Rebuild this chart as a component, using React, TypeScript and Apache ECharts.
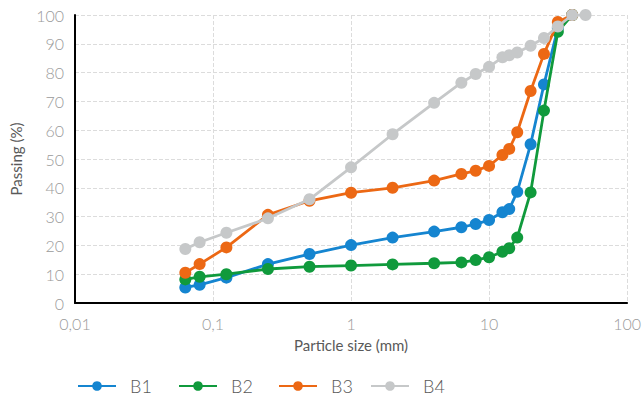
import React, { useEffect, useRef } from "react";
import * as echarts from "echarts";

const sizes = [0.063, 0.08, 0.125, 0.25, 0.5, 1, 2, 4, 6.3, 8, 10, 12.5, 14, 16, 20, 25, 31.5, 40];
const sizesB4 = [0.063, 0.08, 0.125, 0.25, 0.5, 1, 2, 4, 6.3, 8, 10, 12.5, 14, 16, 20, 25, 31.5, 40, 50];

const b1 = [5.4, 6.3, 8.8, 13.5, 17, 20.1, 22.7, 24.8, 26.3, 27.4, 28.8, 31.5, 32.6, 38.6, 55.1, 75.9, 95.5, 100];
const b2 = [8.2, 9.1, 10, 11.8, 12.6, 13, 13.4, 13.8, 14.1, 14.9, 15.9, 17.8, 19, 22.7, 38.4, 66.8, 94.2, 100];
const b3 = [10.5, 13.5, 19.3, 30.6, 35.5, 38.3, 40, 42.5, 44.8, 45.9, 47.6, 51.4, 53.5, 59.3, 73.6, 86.5, 97.6, 100];
const b4 = [18.75, 21.1, 24.4, 29.4, 36, 47.1, 58.6, 69.5, 76.5, 79.5, 82, 85.3, 86, 87, 89.3, 92, 96, 100, 100];

const seriesNames = ["B1", "B2", "B3", "B4"];
const colors = ["#1585d0", "#109a3c", "#ec6814", "#c6c8c9"];
const legendLefts = [77, 178, 278, 370];

function pairs(xs: number[], ys: number[]) {
  return xs.map((x, i) => [x, ys[i]]);
}

export default function App() {
  const ref = useRef<HTMLDivElement>(null);
  useEffect(() => {
    if (!ref.current) return;
    const chart = echarts.init(ref.current, undefined, { renderer: "svg" });
    const datasets = [pairs(sizes, b1), pairs(sizes, b2), pairs(sizes, b3), pairs(sizesB4, b4)];
    chart.setOption({
      animation: false,
      textStyle: { fontFamily: "Lato" },
      grid: { left: 75, right: 15, top: 15, bottom: 95, containLabel: false },
      legend: seriesNames.map((name, i) => ({
        left: legendLefts[i],
        top: 377,
        padding: 0,
        itemWidth: 38,
        itemHeight: 12,
        textStyle: { color: "#595959", fontSize: 18, fontFamily: "Lato", fontWeight: 300, padding: [0, 0, 0, 9] },
        data: [name],
      })),
      xAxis: {
        type: "log",
        logBase: 10,
        min: 0.01,
        max: 100,
        name: "Particle size (mm)",
        nameLocation: "middle",
        nameGap: 34,
        nameTextStyle: { color: "#595959", fontSize: 15, fontFamily: "Lato" },
        axisLine: { show: true, onZero: false, lineStyle: { color: "#000", width: 2 } },
        axisTick: { show: false },
        axisLabel: {
          color: "#9a9a9a",
          fontSize: 16,
          fontWeight: 300,
          margin: 12,
          formatter: (v: number) => String(v).replace(".", ","),
        },
        splitLine: { show: true, lineStyle: { color: "#dcdcdc", type: "dashed", width: 1 } },
      },
      yAxis: {
        type: "value",
        min: 0,
        max: 100,
        interval: 10,
        name: "Passing (%)",
        nameLocation: "middle",
        nameGap: 52,
        nameTextStyle: { color: "#595959", fontSize: 15, fontFamily: "Lato" },
        axisLine: { show: true, lineStyle: { color: "#000", width: 2 } },
        axisTick: { show: false },
        axisLabel: { color: "#9a9a9a", fontSize: 16, fontWeight: 300, margin: 11 },
        splitLine: { show: true, lineStyle: { color: "#dcdcdc", type: "dashed", width: 1 } },
      },
      series: seriesNames.map((name, i) => ({
        name,
        type: "line",
        data: datasets[i],
        symbol: "circle",
        symbolSize: 12,
        lineStyle: { width: 2.8, color: colors[i] },
        itemStyle: { color: colors[i] },
        z: 2 + i,
      })),
    });
    return () => chart.dispose();
  }, []);
  return <div ref={ref} style={{ width: 644, height: 398, position: "absolute", left: 0, top: 0 }} />;
}
